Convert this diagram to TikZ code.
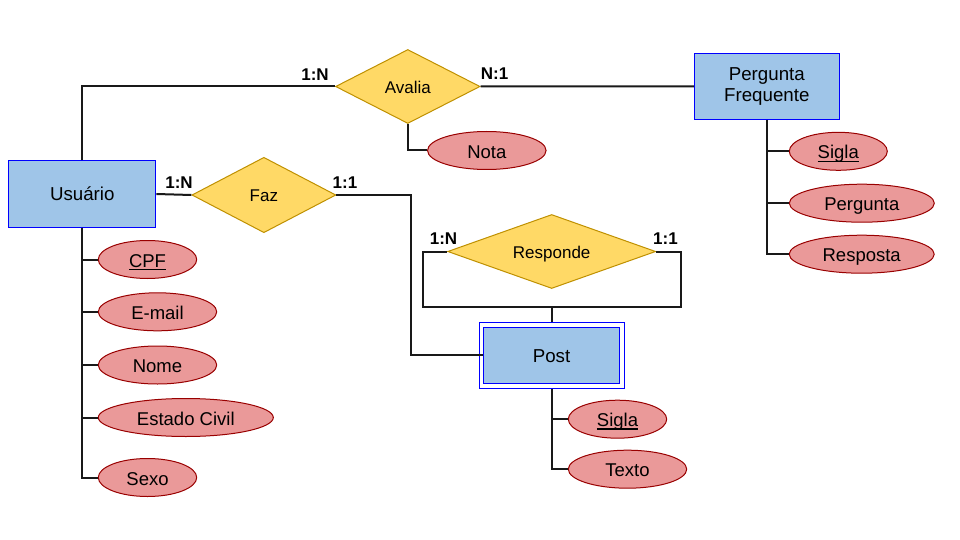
\documentclass[tikz,border=0pt]{standalone}
\usepackage{fontspec}
\setmainfont{Liberation Sans}
\usetikzlibrary{shapes.geometric}
\definecolor{entfill}{HTML}{9FC5E8}
\definecolor{entdraw}{HTML}{0000FF}
\definecolor{relfill}{HTML}{FFD966}
\definecolor{reldraw}{HTML}{BF9000}
\definecolor{attfill}{HTML}{EA9999}
\definecolor{attdraw}{HTML}{990000}
\newcommand{\keyattr}[1]{\setbox0\hbox{#1}\rlap{\rule[-2.8pt]{\wd0}{1.2pt}}\box0}
\tikzset{
  entity/.style={rectangle, draw=entdraw, fill=entfill, line width=1pt, inner sep=0pt, align=center,
    font=\fontsize{18.7}{21.5}\selectfont, text height=17.4pt, text depth=4pt},
  frame/.style={rectangle, draw=entdraw, line width=1pt, inner sep=0pt},
  relation/.style={diamond, aspect=3, draw=reldraw, fill=relfill, line width=1pt, inner sep=0pt,
    font=\fontsize{17}{19.5}\selectfont, text height=17.2pt, text depth=3.6pt},
  attribute/.style={ellipse, draw=attdraw, fill=attfill, line width=1pt, inner sep=0pt,
    minimum height=38pt, font=\fontsize{18.5}{21}\selectfont, text height=19.2pt, text depth=3.9pt},
  card/.style={font=\bfseries\fontsize{17}{19.5}\selectfont, inner sep=0pt, text height=17.4pt, text depth=3.6pt},
  conn/.style={line width=2pt, draw=black!90}
}
\begin{document}
\begin{tikzpicture}[x=1pt, y=-1pt]
\useasboundingbox (0,0) rectangle (960,540);

% entities
\node[entity, minimum width=147pt, minimum height=66pt] (usuario) at (82.3,194) {Usuário};
\node[entity, minimum width=145pt, minimum height=66pt, text height=, text depth=] (pf) at (766.8,86.3) {Pergunta\\Frequente};
\node[frame, minimum width=145pt, minimum height=65.6pt] (postframe) at (551.8,355.5) {};
\node[entity, minimum width=136.4pt, minimum height=56pt] (post) at (551.5,355.3) {Post};

% relationships
\node[relation, minimum width=144.5pt, minimum height=74pt] (avalia) at (407.8,86.5) {Avalia};
\node[relation, minimum width=144pt, minimum height=75.4pt] (faz) at (263.9,195) {Faz};
\node[relation, minimum width=208pt, minimum height=74pt] (resp) at (551.7,251.5) {Responde};

% attributes
\node[attribute, minimum width=118.5pt] (nota) at (486.8,150.5) {Nota};
\node[attribute, minimum width=98.4pt] (cpf) at (147.5,259.5) {\keyattr{CPF}};
\node[attribute, minimum width=118.4pt] (email) at (157.5,311.8) {E-mail};
\node[attribute, minimum width=118.4pt] (nome) at (157.5,365) {Nome};
\node[attribute, minimum width=175pt] (estado) at (185.8,417.5) {Estado Civil};
\node[attribute, minimum width=98.4pt] (sexo) at (147.5,477.5) {Sexo};
\node[attribute, minimum width=98pt] (siglapf) at (838.3,151.3) {\keyattr{Sigla}};
\node[attribute, minimum width=145pt] (pergunta) at (861.8,203.2) {Pergunta};
\node[attribute, minimum width=145pt] (resposta) at (861.7,254.2) {Resposta};
\node[attribute, minimum width=98.4pt] (siglapost) at (617.5,419.2) {\keyattr{Sigla}};
\node[attribute, minimum width=118.4pt] (texto) at (627.5,469.2) {Texto};

% cardinalities
\node[card] (c1) at (315,73.7) {1:N};
\node[card] (c2) at (494.6,73) {N:1};
\node[card] (c3) at (179,182) {1:N};
\node[card] (c4) at (345,182) {1:1};
\node[card] (c5) at (443.5,238) {1:N};
\node[card] (c6) at (665.5,238) {1:1};

% helper coordinates
\coordinate (fazbend) at (410.5,195);
\coordinate (loopL) at (422.5,306.5);
\coordinate (loopR) at (680.5,306.5);

% connectors
\begin{scope}[conn]
\draw (usuario.north) |- (avalia.west);
\draw (avalia.east) -- (pf.west);
\draw (avalia.south) |- (nota.west);
\draw (usuario.east) -- (faz.west);
\draw (faz.east) -- (fazbend) |- (post.west);
\draw (resp.west) -| (loopL) -- (loopR) |- (resp.east);
\draw (postframe.north) -- (postframe.north |- loopL);
\draw (usuario.south) |- (cpf.west);
\draw (usuario.south) |- (email.west);
\draw (usuario.south) |- (nome.west);
\draw (usuario.south) |- (estado.west);
\draw (usuario.south) |- (sexo.west);
\draw (pf.south) |- (siglapf.west);
\draw (pf.south) |- (pergunta.west);
\draw (pf.south) |- (resposta.west);
\draw (postframe.south) |- (siglapost.west);
\draw (postframe.south) |- (texto.west);
\end{scope}
\end{tikzpicture}
\end{document}
